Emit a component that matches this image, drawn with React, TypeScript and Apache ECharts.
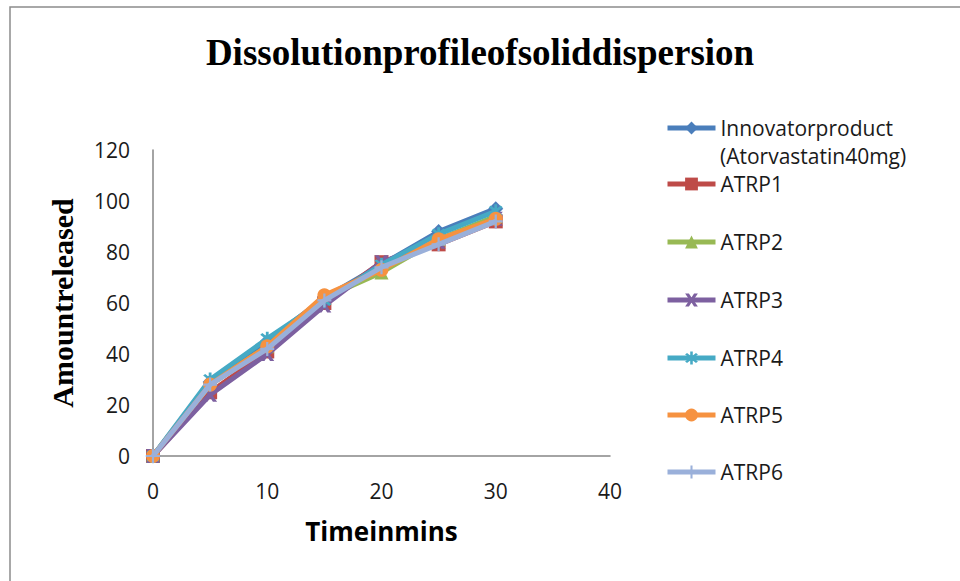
import React, { useEffect, useRef } from "react";
import * as echarts from "echarts";

const timePoints = [0, 5, 10, 15, 20, 25, 30];
const seriesNames = [
  "Innovatorproduct",
  "ATRP1",
  "ATRP2",
  "ATRP3",
  "ATRP4",
  "ATRP5",
  "ATRP6",
];
const innovator = [0, 29, 45, 62, 75, 88, 97];
const atrp1 = [0, 25, 41, 60, 76, 83, 92];
const atrp2 = [0, 28, 43, 62, 72, 85, 94];
const atrp3 = [0, 24, 40, 59, 76, 84, 93];
const atrp4 = [0, 30, 46, 61, 75, 87, 96];
const atrp5 = [0, 28, 43, 63, 73, 85, 93];
const atrp6 = [0, 28, 42, 61, 74, 83, 92];
const seriesValues = [innovator, atrp1, atrp2, atrp3, atrp4, atrp5, atrp6];
const colors = ["#4A7EBB", "#BE4B48", "#98B954", "#7D60A0", "#46AAC5", "#F69240", "#9AB0DA"];
const symbols = [
  "diamond",
  "rect",
  "triangle",
  "path://M0,0L3,0L5,3L7,0L10,0L6.5,5L10,10L7,10L5,7L3,10L0,10L3.5,5Z",
  "path://M4.2,0H5.8V10H4.2Z M1,2.2L2.2,1L9,7.8L7.8,9Z M7.8,1L9,2.2L2.2,9L1,7.8Z",
  "circle",
  "path://M4.2,0H5.8V4.2H10V5.8H5.8V10H4.2V5.8H0V4.2H4.2Z",
];
const legendCenters = [128, 184, 242, 300, 358, 415, 472];
const fontSans = "'Open Sans', 'Liberation Sans', sans-serif";
const fontSerif = "'Liberation Serif', 'DejaVu Serif', serif";

export default function App() {
  const ref = useRef<HTMLDivElement>(null);
  useEffect(() => {
    if (!ref.current) return;
    const chart = echarts.init(ref.current, null, { renderer: "svg" });
    const series = seriesNames.map((name, i) => ({
      name,
      type: "line",
      data: timePoints.map((t, j) => [t, seriesValues[i][j]]),
      symbol: symbols[i],
      symbolSize: i === 0 ? 15 : 14,
      lineStyle: { width: 5, color: colors[i] },
      itemStyle: { color: colors[i] },
      z: 2 + i,
    }));
    const legends = seriesNames.map((name, i) => ({
      data: [name],
      left: 665,
      top: legendCenters[i] - 12,
      orient: "vertical",
      itemWidth: 48,
      itemHeight: 16,
      padding: 0,
      selectedMode: false,
      lineStyle: { width: 5 },
      textStyle: { fontFamily: fontSans, fontSize: 21, color: "#1a1a1a", lineHeight: 24 },
    }));
    chart.setOption({
      animation: false,
      backgroundColor: "#ffffff",
      title: {
        text: "Dissolutionprofileofsoliddispersion",
        left: 475,
        textAlign: "center",
        top: 29,
        textStyle: { fontFamily: fontSerif, fontWeight: "bold", fontSize: 37, color: "#000" },
      },
      legend: legends,
      graphic: [
        {
          type: "rect",
          shape: { x: 10, y: 7, width: 1000, height: 700 },
          style: { fill: "none", stroke: "#8c8c8c", lineWidth: 1.5 },
          silent: true,
        },
        {
          type: "text",
          left: 720,
          top: 145,
          style: { text: "(Atorvastatin40mg)", fontFamily: fontSans, fontSize: 21, fill: "#1a1a1a" },
        },
      ],
      grid: { left: 153, right: 350, top: 150, bottom: 125, containLabel: false },
      xAxis: {
        type: "value",
        min: 0,
        max: 40,
        interval: 10,
        name: "Timeinmins",
        nameLocation: "middle",
        nameGap: 62,
        nameTextStyle: { fontFamily: fontSans, fontWeight: "bold", fontSize: 26, color: "#000" },
        axisLine: { show: true, lineStyle: { color: "#868686", width: 1.5 } },
        axisTick: { show: false },
        splitLine: { show: false },
        axisLabel: { margin: 24, fontFamily: fontSans, fontSize: 21, color: "#1a1a1a" },
      },
      yAxis: {
        type: "value",
        min: 0,
        max: 120,
        interval: 20,
        name: "Amountreleased",
        nameLocation: "middle",
        nameGap: 76,
        nameTextStyle: { fontFamily: fontSerif, fontWeight: "bold", fontSize: 30, color: "#000" },
        axisLine: { show: true, lineStyle: { color: "#868686", width: 1.5 } },
        axisTick: { show: false },
        splitLine: { show: false },
        axisLabel: { margin: 23, fontFamily: fontSans, fontSize: 21, color: "#1a1a1a" },
      },
      series,
    });
    return () => chart.dispose();
  }, []);
  return (
    <div
      ref={ref}
      style={{ position: "absolute", left: 0, top: 0, width: 960, height: 581 }}
    />
  );
}
